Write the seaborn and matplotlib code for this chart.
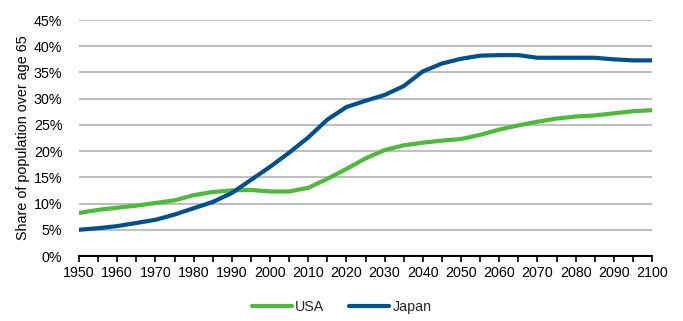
import matplotlib
matplotlib.use("Agg")
import matplotlib.pyplot as plt
import matplotlib.ticker as mticker
import seaborn as sns
import pandas as pd

years = list(range(1950, 2101, 5))
usa = [8.2, 8.8, 9.2, 9.6, 10.1, 10.6, 11.6, 12.2, 12.5, 12.6, 12.3, 12.3, 13.0, 14.7,
       16.6, 18.6, 20.2, 21.1, 21.6, 22.0, 22.3, 23.1, 24.1, 24.9, 25.6, 26.2, 26.6,
       26.8, 27.2, 27.6, 27.8]
japan = [5.0, 5.3, 5.7, 6.3, 6.9, 7.9, 9.1, 10.3, 12.0, 14.5, 17.0, 19.7, 22.6, 26.0,
         28.4, 29.6, 30.7, 32.4, 35.2, 36.7, 37.6, 38.2, 38.3, 38.3, 37.8, 37.8, 37.8,
         37.8, 37.5, 37.3, 37.3]
series_names = ["USA", "Japan"]
colors = ["#4cbb3a", "#00508f"]

df = pd.DataFrame({
    "year": years * 2,
    "share": usa + japan,
    "country": ["USA"] * len(years) + ["Japan"] * len(years),
})

sns.set_theme(style="white")
plt.rcParams["font.family"] = ["Liberation Sans", "DejaVu Sans"]
fs = 10.3

fig = plt.figure(figsize=(6.83, 3.21), dpi=100)
ax = fig.add_axes([79 / 683, 1 - 256 / 321, (652 - 79) / 683, (256 - 20) / 321])

sns.lineplot(data=df, x="year", y="share", hue="country", hue_order=series_names,
             palette=colors, linewidth=3, ax=ax, legend=False)

ax.set_xlim(1950, 2100)
ax.set_ylim(0, 45)
ax.yaxis.set_major_locator(mticker.MultipleLocator(5))
ax.yaxis.set_major_formatter(mticker.FuncFormatter(lambda v, p: f"{int(round(v))}%"))
ax.xaxis.set_major_locator(mticker.MultipleLocator(10))
ax.xaxis.set_minor_locator(mticker.MultipleLocator(5))
ax.grid(axis="y", color="#bfbfbf", linewidth=1.5, zorder=0)
ax.set_axisbelow(True)
for s in ["left", "right", "top"]:
    ax.spines[s].set_visible(False)
ax.spines["bottom"].set_color("black")
ax.spines["bottom"].set_linewidth(1.5)
ax.tick_params(axis="x", which="both", direction="out", length=4, width=1.2,
               color="black", labelsize=fs, labelcolor="black", pad=3, bottom=True)
ax.tick_params(axis="y", length=0, labelsize=fs, labelcolor="black", pad=12)
ax.set_xlabel("")
ax.set_ylabel("Share of population over age 65", fontsize=fs, color="black", labelpad=3)

from matplotlib.lines import Line2D
handles = [Line2D([0], [0], color=c, linewidth=3) for c in colors]
fig.legend(handles, series_names, loc="center", bbox_to_anchor=(0.5, 1 - 307 / 321),
           ncol=2, frameon=False, fontsize=fs, handlelength=2.8, handletextpad=0.2,
           columnspacing=1.8)

fig.savefig("out.png", dpi=100)
